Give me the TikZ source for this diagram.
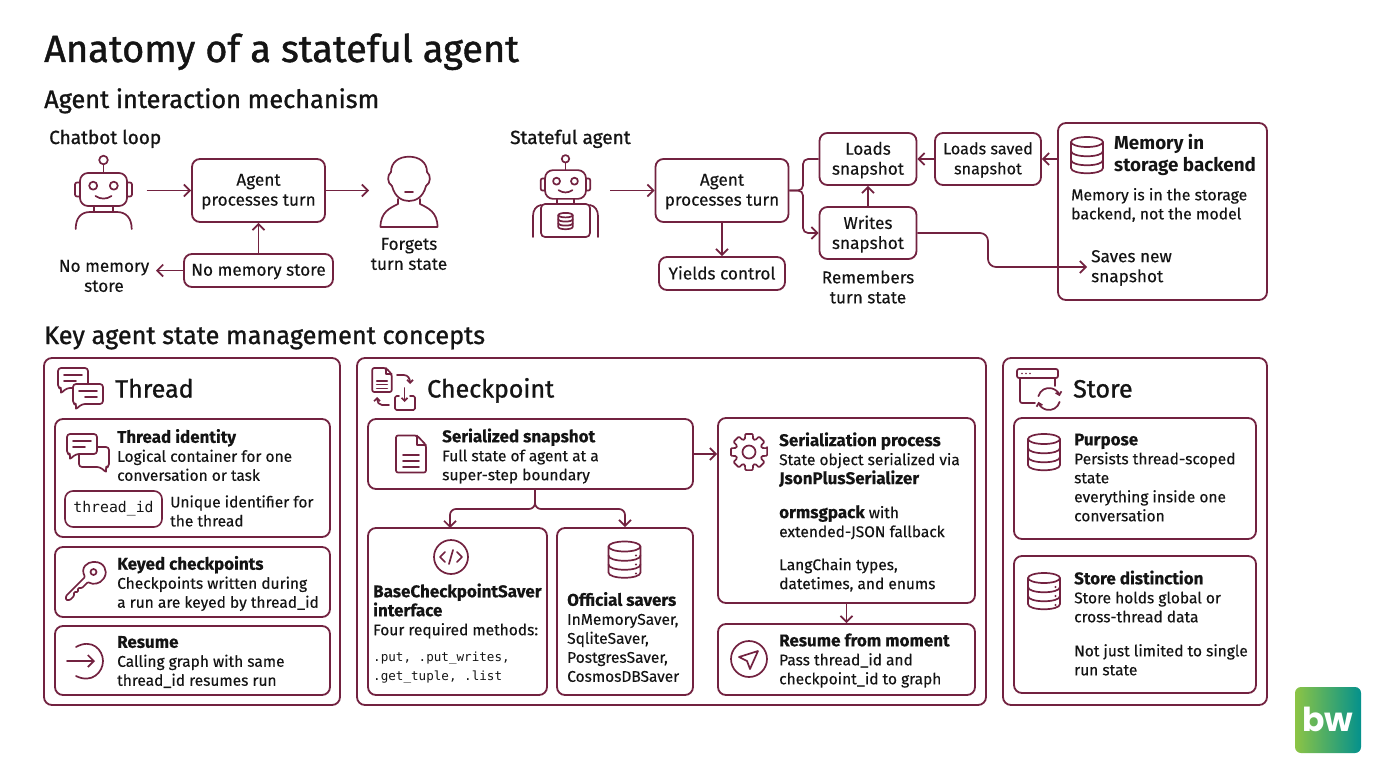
\documentclass[tikz,border=0pt]{standalone}
\usepackage{fontspec}
\setmainfont{Fira Sans}
\setmonofont{DejaVu Sans Mono}
\newfontfamily\logofont{Poppins}
\newfontfamily\medfam{Fira Sans}[FakeBold=1.1]
\newfontfamily\bodyfam{Fira Sans}[FakeBold=0.25]
\usetikzlibrary{arrows.meta}

\definecolor{maroon}{HTML}{722240}
\definecolor{ink}{HTML}{141414}
\definecolor{logoleft}{HTML}{8CC445}
\definecolor{logoright}{HTML}{04918C}

\newcommand{\mainhead}{\medfam\fontsize{38}{42}\selectfont}
\newcommand{\subhead}{\medfam\fontsize{25.3}{30}\selectfont}
\newcommand{\minihead}{\medfam\fontsize{19}{24}\selectfont}
\newcommand{\panelhead}{\medfam\fontsize{25}{30}\selectfont}
\newcommand{\flowfont}{\bodyfam\fontsize{17.2}{20}\selectfont}
\newcommand{\cardfont}{\bodyfam\fontsize{15.5}{19}\selectfont}
\newcommand{\hd}[1]{{\fontsize{17}{19}\selectfont\bfseries #1}}

\tikzset{
  >={Straight Barb[length=6pt,width=12pt]},
  head/.style={anchor=base west,inner sep=0pt,text=ink},
  panel/.style={draw=maroon,line width=1.8pt,rounded corners=8pt,inner sep=0pt},
  flowbox/.style={panel,align=center,text=ink,font=\flowfont,text depth=1.5pt},
  flowtext/.style={inner sep=0pt,align=center,text=ink,font=\flowfont},
  cardtext/.style={anchor=west,inner sep=0pt,align=left,text=ink,font=\cardfont},
  conn/.style={draw=maroon,line width=1.7pt,->},
  wire/.style={draw=maroon,line width=1.7pt},
  icon/.style={draw=maroon,line width=1.7pt,line cap=round,line join=round},
  tinyhead/.style={>={Straight Barb[length=3pt,width=6pt]}},
  pics/dbstack/.style={code={
    \draw[icon] (0,-13) ellipse [x radius=16,y radius=5];
    \draw[icon] (-16,-13) -- (-16,13) .. controls (-16,20) and (16,20) .. (16,13) -- (16,-13);
    \draw[icon] (-16,-4) .. controls (-16,3) and (16,3) .. (16,-4);
    \draw[icon] (-16,5) .. controls (-16,12) and (16,12) .. (16,5);
  }},
  pics/dbdots/.style={code={
    \pic {dbstack};
    \foreach \yy in {-4,5,14} \fill[maroon] (11.5,\yy) circle (1.2);
  }},
  pics/bothead/.style={code={
    \draw[icon,rounded corners=8pt] (-23.5,-16.5) rectangle (23.5,16.5);
    \draw[icon,rounded corners=2pt] (-23.5,-7) -- (-28.5,-7) -- (-28.5,7) -- (-23.5,7);
    \draw[icon,rounded corners=2pt] (23.5,-7) -- (28.5,-7) -- (28.5,7) -- (23.5,7);
    \draw[icon] (0,-29.5) circle (4.3);
    \draw[icon] (0,-25) -- (0,-16.5);
    \draw[icon] (-10.3,-3.8) circle (4);
    \draw[icon] (10.3,-3.8) circle (4);
    \draw[icon] (-8,6.5) .. controls (-3,10) and (3,10) .. (8,6.5);
  }},
  pics/bubble/.style={code={
    \draw[icon,fill=white,rounded corners=3pt] (-15,-11) -- (15,-11) -- (15,9) -- (-6,9)
      -- (-13,15) -- (-11,9) -- (-15,9) -- cycle;
  }},
  pics/bublines/.style={code={
    \pic {bubble};
    \draw[icon] (-9,-4) -- (9,-4);
    \draw[icon] (-9,2) -- (3,2);
  }},
  pics/docicon/.style={code={
    \draw[icon,rounded corners=2pt] (-15,-18.5) -- (6,-18.5) -- (15,-9) -- (15,18.5) -- (-15,18.5) -- cycle;
    \draw[icon] (6,-18.5) -- (6,-9) -- (15,-9);
    \draw[icon] (-8,1) -- (8,1);
    \draw[icon] (-8,7) -- (8,7);
    \draw[icon] (-8,13) -- (8,13);
  }},
  pics/gearicon/.style={code={
    \draw[icon,rounded corners=1pt] (-12:18.5)
      \foreach \a in {0,45,...,315} { -- (\a-12:18.5) -- (\a+12:18.5) -- (\a+17:13.5) -- (\a+28:13.5) } -- cycle;
    \draw[icon] (0,0) circle (6.5);
  }},
}

\begin{document}
\begin{tikzpicture}[x=1pt,y=-1pt]
  \fill[white] (0,0) rectangle (1376,768);
  \useasboundingbox (0,0) rectangle (1376,768);

  \node[head,font=\mainhead] (title) at (44,62) {Anatomy of a stateful agent};
  \node[head,font=\subhead] (subtop) at (44,108) {Agent interaction mechanism};
  \node[head,font=\subhead] (subkey) at (44,344) {Key agent state management concepts};

  % chatbot loop
  \node[head,font=\minihead] (chathead) at (49,144) {Chatbot loop};
  \pic at (103.5,189.5) {bothead};
  \draw[icon] (94.3,206) -- (94.3,212) (113.3,206) -- (113.3,212);
  \draw[icon] (75.7,229) .. controls (75.7,218) and (81,212) .. (90,212) -- (117,212)
    .. controls (126,212) and (131.7,218) .. (131.7,229);
  \coordinate (botaout) at (146.5,190.5);
  \node[flowbox,minimum width=133pt,minimum height=63pt] (turna) at (258.5,190.5) {Agent\\processes turn};
  \node[flowbox,minimum width=149pt,minimum height=33pt] (nostore) at (258.5,270.5) {No memory store};
  \coordinate (persona) at (369,190.5);
  \coordinate (nolabel) at (156,270.5);
  \node[flowtext] (forgets) at (409,254) {Forgets\\turn state};
  \node[flowtext] (nomem) at (104,276) {No memory\\store};
  \draw[conn] (botaout) -- (turna);
  \draw[conn] (turna) -- (persona);
  \draw[conn] (nostore) -- (turna);
  \draw[conn] (nostore) -- (nolabel);
  % person
  \draw[icon] (392,186) .. controls (395,198) and (403,201) .. (409,201)
    .. controls (415,201) and (423,198) .. (426,186);
  \draw[icon] (391,172) .. controls (387,175) and (387,183) .. (392,186);
  \draw[icon] (427,172) .. controls (431,175) and (431,183) .. (426,186);
  \draw[icon] (391,172) .. controls (391,162) and (399,156.7) .. (409,156.7)
    .. controls (419,156.7) and (427,162) .. (427,172);
  \draw[icon] (405,192) -- (413,192);
  \draw[icon] (398,199) -- (398,204) .. controls (390,208) and (380.5,212) .. (380.5,227) -- (437.5,227)
    .. controls (437.5,212) and (428,208) .. (420,204) -- (420,199);

  % stateful agent
  \node[head,font=\minihead] (statehead) at (510,144) {Stateful agent};
  \pic[scale=.87] at (565.5,184.5) {bothead};
  \draw[icon] (557,199) -- (557,204) (574,199) -- (574,204);
  \draw[icon,rounded corners=4pt] (541,237) -- (541,204) -- (590,204) -- (590,237) -- cycle;
  \draw[icon] (533,237) -- (533,216) .. controls (533,210) and (536,206) .. (541,205);
  \draw[icon] (598,237) -- (598,216) .. controls (598,210) and (595,206) .. (590,205);
  \pic[scale=.45] at (565.5,221) {dbstack};
  \coordinate (botbout) at (610,190.5);
  \node[flowbox,minimum width=133pt,minimum height=63pt] (turnb) at (722,190.5) {Agent\\processes turn};
  \node[flowbox,minimum width=126pt,minimum height=33pt] (yields) at (722,273.5) {Yields control};
  \node[flowbox,minimum width=97pt,minimum height=52pt] (loads) at (868,159) {Loads\\snapshot};
  \node[flowbox,minimum width=97pt,minimum height=52pt] (writes) at (868,233) {Writes\\snapshot};
  \node[flowbox,minimum width=106pt,minimum height=52pt,font=\bodyfam\fontsize{16.2}{20}\selectfont] (saved) at (988,159) {Loads saved\\snapshot};
  \node[panel,minimum width=209pt,minimum height=177pt] (memory) at (1162.5,211.5) {};
  \node[flowtext] (remembers) at (868,287) {Remembers\\turn state};
  \node[flowtext,anchor=west,align=left] (saves) at (1091,268) {Saves new\\snapshot};
  \pic at (1087,155) {dbstack};
  \node[flowtext,anchor=west,align=left,font=\bfseries\fontsize{18.8}{22}\selectfont] (memtitle) at (1114,155) {Memory in\\storage backend};
  \node[flowtext,anchor=west,align=left,font=\bodyfam\fontsize{15.8}{19}\selectfont] (membody) at (1071,205) {Memory is in the storage\\backend, not the model};
  \coordinate (forkb) at (803,190.5);
  \coordinate (bendw) at (988,250);
  \coordinate (savesin) at (1087,267);
  \draw[conn] (botbout) -- (turnb);
  \draw[conn] (turnb) -- (yields);
  \draw[wire,rounded corners=5pt] (turnb.east) -- (forkb) |- (loads.west);
  \draw[conn,rounded corners=5pt] (turnb.east) -- (forkb) |- (writes.west);
  \draw[conn] (writes) -- (loads);
  \draw[conn] (saved) -- (loads);
  \draw[conn] (memory.west |- saved) -- (saved);
  \draw[conn,rounded corners=8pt] (writes.east) -| (bendw) |- (savesin);

  % thread panel
  \node[panel,minimum width=296pt,minimum height=347pt] (threadp) at (192,531.5) {};
  \pic at (73,379) {bublines};
  \pic[xscale=-1] at (88,395) {bublines};
  \node[head,font=\panelhead] (threadt) at (115,397.5) {Thread};
  \node[panel,minimum width=275pt,minimum height=118pt] (identity) at (192.5,478) {};
  \pic[xscale=-1] at (94,458) {bubble};
  \pic at (82,445) {bublines};
  \node[cardtext] (identityt) at (117,455) {\hd{Thread identity}\\Logical container for one\\conversation or task};
  \node[panel,line width=1.6pt,minimum width=97pt,minimum height=36pt,font=\ttfamily\fontsize{14.8}{18}\selectfont,text=ink] (threadid) at (113.5,509) {thread\_id};
  \node[cardtext] (threadidt) at (170,511) {Unique identifier for\\the thread};
  \node[panel,minimum width=275pt,minimum height=70pt] (keyed) at (192.5,582) {};
  \draw[icon,rounded corners=1pt] (85,577) .. controls (80,567) and (88,562) .. (94,562)
    .. controls (104,562) and (108,571) .. (104,578) .. controls (100,584) and (93,585) .. (88,582)
    -- (82,588) -- (78,588) -- (78,592) -- (74,592) -- (74,596) -- (70,600) -- (66,600) -- (66,596) -- cycle;
  \draw[icon] (93.5,572) circle (3);
  \node[cardtext] (keyedt) at (117,583.5) {\hd{Keyed checkpoints}\\Checkpoints written during\\a run are keyed by thread\_id};
  \node[panel,minimum width=275pt,minimum height=69pt] (resume) at (192.5,660.5) {};
  \draw[icon] (76,647) .. controls (92,638) and (103,650) .. (103,661) .. controls (103,672) and (92,684) .. (76,676);
  \draw[icon,->] (67,661) -- (95,661);
  \node[cardtext] (resumet) at (117,662) {\hd{Resume}\\Calling graph with same\\thread\_id resumes run};

  % checkpoint panel
  \node[panel,minimum width=629pt,minimum height=347pt] (checkp) at (671.5,531.5) {};
  \pic[scale=.65] at (382,380) {docicon};
  \draw[icon,tinyhead,->] (397,375) -- (404,375) .. controls (408,375) and (410,379) .. (410,384);
  \draw[icon,rounded corners=1.5pt] (399,396) -- (395,396) -- (395,410) -- (415,410) -- (415,396) -- (410,396);
  \draw[icon,tinyhead,->] (404.5,388) -- (404.5,402);
  \draw[icon,tinyhead,->] (389,405) -- (382,405) .. controls (379,405) and (377,402) .. (377,397);
  \node[head,font=\panelhead] (checkt) at (427,397.5) {Checkpoint};
  \node[panel,minimum width=325pt,minimum height=70pt] (serial) at (530.5,454) {};
  \pic at (411,454) {docicon};
  \node[cardtext] (serialt) at (442,456) {\hd{Serialized snapshot}\\Full state of agent at a\\super-step boundary};
  \node[panel,minimum width=179pt,minimum height=167pt] (basesv) at (457.5,611.5) {};
  \draw[icon] (451,557) circle (17);
  \draw[icon] (445,552) -- (440,557) -- (445,562);
  \draw[icon] (457,552) -- (462,557) -- (457,562);
  \draw[icon] (453,550) -- (449,564);
  \node[cardtext] (basesvt) at (373,611) {\hd{BaseCheckpointSaver}\\\hd{interface}\\Four required methods:};
  \node[cardtext,font=\ttfamily\fontsize{12.6}{19}\selectfont] (basesvm) at (373,668) {.put, .put\_writes,\\.get\_tuple, .list};
  \node[panel,minimum width=136pt,minimum height=167pt] (official) at (625,611.5) {};
  \pic at (624.5,559.5) {dbdots};
  \node[cardtext] (officialt) at (567,637) {\hd{Official savers}\\InMemorySaver,\\SqliteSaver,\\PostgresSaver,\\CosmosDBSaver};
  \node[panel,minimum width=257pt,minimum height=185pt] (process) at (846.5,510.5) {};
  \pic at (749,452) {gearicon};
  \node[cardtext] (processt) at (779,512) {\hd{Serialization process}\\State object serialized via\\\hd{JsonPlusSerializer}\\[15pt]\hd{ormsgpack} with\\extended-JSON fallback\\[14pt]LangChain types,\\datetimes, and enums};
  \node[panel,minimum width=257pt,minimum height=71pt] (moment) at (846.5,659.5) {};
  \draw[icon] (749,659) circle (18);
  \draw[icon] (739,657) -- (758,651) -- (750,669) -- (747,661) -- cycle;
  \node[cardtext] (momentt) at (779,660.5) {\hd{Resume from moment}\\Pass thread\_id and\\checkpoint\_id to graph};
  \coordinate (forkc) at (535,509);
  \coordinate (basein) at (450,528);
  \draw[conn,rounded corners=6pt] (serial.south -| forkc) -- (forkc) -| (basein);
  \draw[conn,rounded corners=6pt] (serial.south -| forkc) -- (forkc) -| (official.north);
  \draw[conn] (serial.east) -- (serial.east -| process.west);
  \draw[conn] (process) -- (moment);

  % store panel
  \node[panel,minimum width=264pt,minimum height=347pt] (storep) at (1135,531.5) {};
  \draw[icon,rounded corners=2pt] (1017,378) rectangle (1058,369);
  \draw[icon,rounded corners=2pt] (1020,378) -- (1020,403) -- (1035,403);
  \draw[icon] (1055,378) -- (1055,386);
  \foreach \xx in {1022,1026,1030} \fill[maroon] (\xx,373.5) circle (.9);
  \draw[icon,tinyhead,->] (1049,399) ++(195:11) arc [start angle=195,end angle=345,radius=11];
  \draw[icon,tinyhead,->] (1049,399) ++(15:11) arc [start angle=15,end angle=165,radius=11];
  \node[head,font=\panelhead] (storet) at (1073,397.5) {Store};
  \node[panel,minimum width=242pt,minimum height=121pt] (purpose) at (1135,478.5) {};
  \pic at (1044,452) {dbstack};
  \node[cardtext] (purposet) at (1074,477.5) {\hd{Purpose}\\Persists thread-scoped\\state\\everything inside one\\conversation};
  \node[panel,minimum width=242pt,minimum height=137pt] (distinct) at (1135,624.5) {};
  \pic at (1044,591) {dbdots};
  \node[cardtext] (distinctt) at (1074,623) {\hd{Store distinction}\\Store holds global or\\cross-thread data\\[15pt]Not just limited to single\\run state};

  % logo
  \shade[left color=logoleft,right color=logoright,rounded corners=6pt] (1295,687) rectangle (1361,753);
  \node[inner sep=0pt,text=white,font=\logofont\bfseries\fontsize{33}{33}\selectfont] (logo) at (1328,719) {bw};
\end{tikzpicture}
\end{document}
